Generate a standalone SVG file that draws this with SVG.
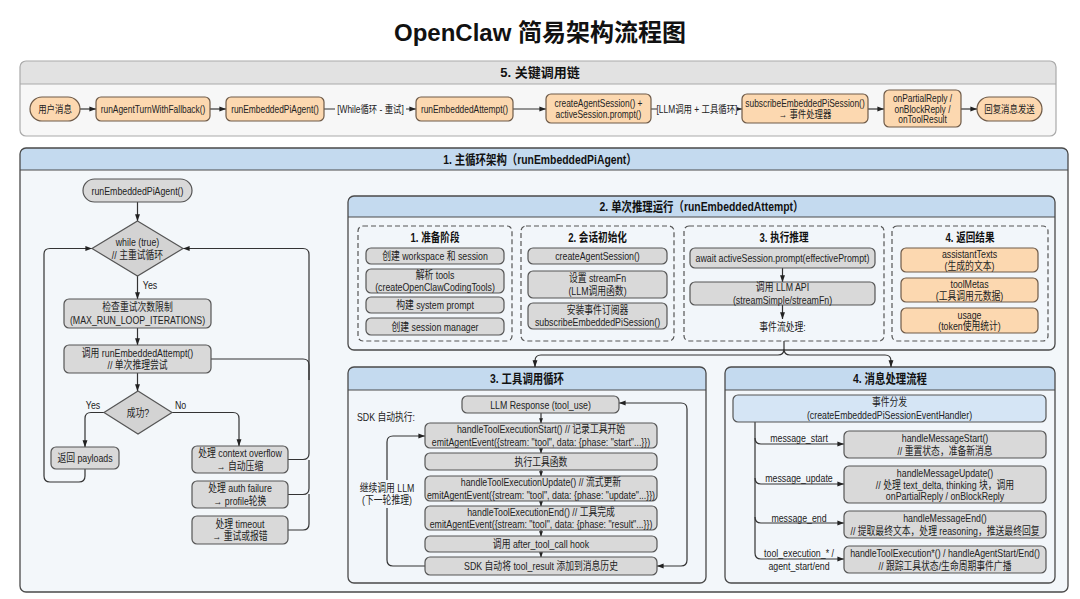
<svg xmlns="http://www.w3.org/2000/svg" width="1080" height="599" viewBox="0 0 1080 599">
<defs>
<style>
.t{font-family:"Liberation Sans","Noto Sans CJK SC",sans-serif;font-size:11px;fill:#222;text-anchor:middle}
.s{font-size:10.5px}
.hd{font-size:13px;font-weight:bold;fill:#111}
.sh{font-size:12px;font-weight:bold;fill:#111}
.title{font-family:"Liberation Sans","Noto Sans CJK SC",sans-serif;font-size:24px;font-weight:bold;fill:#111;text-anchor:middle}
.n{fill:#d9d9d9;stroke:#555;stroke-width:1.2}
.dm{fill:#d3d3d3;stroke:#555;stroke-width:1.2}
.o{fill:#fcd8b0;stroke:#6e5a48;stroke-width:1.2}
.ev{fill:#d5e5f5;stroke:#555;stroke-width:1.2}
.body{fill:#f2f6fa}
.hdr{fill:#c4daef}
.frame{fill:none;stroke:#4a4a4a;stroke-width:1.3}
.dash{fill:none;stroke:#555;stroke-width:1.2;stroke-dasharray:5 3}
.e{fill:none;stroke:#333;stroke-width:1.2;marker-end:url(#a)}
.el{fill:none;stroke:#333;stroke-width:1.2}
.es{fill:none;stroke:#333;stroke-width:1.2;marker-end:url(#sm)}
</style>
<marker id="a" viewBox="0 0 10 10" refX="9.5" refY="5" markerWidth="7" markerHeight="7" markerUnits="userSpaceOnUse" orient="auto-start-reverse"><path d="M0,1.5 L10,5 L0,8.5 z" fill="#222"/></marker>
<marker id="sm" viewBox="0 0 10 10" refX="9.5" refY="5" markerWidth="5" markerHeight="5" markerUnits="userSpaceOnUse" orient="auto"><path d="M0,1 L10,5 L0,9 z" fill="#222"/></marker>
</defs>
<rect x="0" y="0" width="1080" height="599" fill="#ffffff"/>
<text class="title" x="540" y="41">OpenClaw 简易架构流程图</text>

<!-- Panels -->
<g id="panel-5">
<rect x="20" y="61" width="1036" height="75" rx="6" fill="#f7f7f7"/>
<path d="M20,84 V67 Q20,61 26,61 H1050 Q1056,61 1056,67 V84 Z" fill="#e2e2e2"/>
<line x1="20" y1="84" x2="1056" y2="84" stroke="#aaa"/>
<rect x="20" y="61" width="1036" height="75" rx="6" fill="none" stroke="#aaa" stroke-width="1.2"/>
<text class="t hd" x="540" y="77">5. 关键调用链</text>
</g>

<g id="panel-1">
<rect x="20" y="148" width="1048" height="444" rx="6" fill="#f3f7fa"/>
<path d="M20,170 V154 Q20,148 26,148 H1062 Q1068,148 1068,154 V170 Z" class="hdr"/>
<line x1="20" y1="170" x2="1068" y2="170" stroke="#4a4a4a" stroke-width="1"/>
<rect class="frame" x="20" y="148" width="1048" height="444" rx="6"/>
<text class="t hd" transform="translate(540 159) scale(.8 1)"><tspan x="0" y="4.5">1. 主循环架构（runEmbeddedPiAgent）</tspan></text>
</g>

<g id="panel-2">
<rect x="348" y="196" width="707" height="154" rx="6" class="body"/>
<path d="M348,217 V202 Q348,196 354,196 H1049 Q1055,196 1055,202 V217 Z" class="hdr"/>
<line x1="348" y1="217" x2="1055" y2="217" stroke="#4a4a4a" stroke-width="1"/>
<rect class="frame" x="348" y="196" width="707" height="154" rx="6"/>
<text class="t hd" transform="translate(701.5 206.5) scale(.8 1)"><tspan x="0" y="4.5">2. 单次推理运行（runEmbeddedAttempt）</tspan></text>
<rect class="dash" x="358" y="226" width="154" height="115" rx="5"/>
<rect class="dash" x="521" y="226" width="153" height="115" rx="5"/>
<rect class="dash" x="684" y="226" width="200" height="115" rx="5"/>
<rect class="dash" x="892" y="226" width="156" height="115" rx="5"/>
<text class="t sh" transform="translate(435 238) scale(.8 1)"><tspan x="0" y="4">1. 准备阶段</tspan></text>
<text class="t sh" transform="translate(597.5 238) scale(.8 1)"><tspan x="0" y="4">2. 会话初始化</tspan></text>
<text class="t sh" transform="translate(784 238) scale(.8 1)"><tspan x="0" y="4">3. 执行推理</tspan></text>
<text class="t sh" transform="translate(970 238) scale(.8 1)"><tspan x="0" y="4">4. 返回结果</tspan></text>
</g>

<g id="panel-3">
<rect x="348" y="367" width="358" height="216" rx="6" class="body"/>
<path d="M348,390 V373 Q348,367 354,367 H700 Q706,367 706,373 V390 Z" class="hdr"/>
<line x1="348" y1="390" x2="706" y2="390" stroke="#4a4a4a" stroke-width="1"/>
<rect class="frame" x="348" y="367" width="358" height="216" rx="6"/>
<text class="t hd" transform="translate(527 378.5) scale(.8 1)"><tspan x="0" y="4.5">3. 工具调用循环</tspan></text>
<text class="t" transform="translate(386 417) scale(.8 1)"><tspan x="0" y="4">SDK 自动执行:</tspan></text>
</g>

<g id="panel-4">
<rect x="725" y="367" width="330" height="216" rx="6" class="body"/>
<path d="M725,390 V373 Q725,367 731,367 H1049 Q1055,367 1055,373 V390 Z" class="hdr"/>
<line x1="725" y1="390" x2="1055" y2="390" stroke="#4a4a4a" stroke-width="1"/>
<rect class="frame" x="725" y="367" width="330" height="216" rx="6"/>
<text class="t hd" transform="translate(890 378.5) scale(.8 1)"><tspan x="0" y="4.5">4. 消息处理流程</tspan></text>
</g>

<!-- Connectors -->
<g id="connectors">
<path class="e" d="M80,109 H96"/>
<path class="e" d="M210,109 H226"/>
<path class="e" d="M324,109 H416"/>
<path class="e" d="M513,109 H546"/>
<path class="e" d="M651,109 H742"/>
<path class="e" d="M868,109 H884"/>
<path class="e" d="M961,109 H977"/>
<rect x="335" y="102" width="71" height="14" fill="#f7f7f7"/>
<text class="t s" transform="translate(370.5 109) scale(.8 1)"><tspan x="0" y="4">[While循环 - 重试]</tspan></text>
<rect x="657" y="102" width="80" height="14" fill="#f7f7f7"/>
<text class="t s" transform="translate(697 109) scale(.8 1)"><tspan x="0" y="4">[LLM调用 + 工具循环]</tspan></text>

<path class="e" d="M137.5,202 V221"/>
<path class="e" d="M137.5,276 V299"/>
<path class="e" d="M137.5,328 V345"/>
<path class="e" d="M137.5,373 V391"/>
<path class="e" d="M104,412.5 H91 Q85,412.5 85,418.5 V447"/>
<path class="e" d="M85,469 V476 Q85,482 79,482 H50 Q44,482 44,476 V254 Q44,248.5 50,248.5 H92"/>
<path class="e" d="M172,412.5 H233 Q239,412.5 239,418.5 V446"/>
<path class="e" d="M288,459.5 H303 Q309,459.5 309,453.5 V254.5 Q309,248.5 303,248.5 H183"/>
<path class="el" d="M288,494.5 H303 Q309,494.5 309,488.5 V460"/>
<path class="el" d="M288,530 H303 Q309,530 309,524 V494"/>
<path class="el" d="M211,359 H303 Q309,359 309,365 V380"/>
<text class="t" transform="translate(150 285) scale(.8 1)"><tspan x="0" y="4">Yes</tspan></text>
<text class="t" transform="translate(93 405) scale(.8 1)"><tspan x="0" y="4">Yes</tspan></text>
<text class="t" transform="translate(180.5 405) scale(.8 1)"><tspan x="0" y="4">No</tspan></text>

<path class="el" d="M784,341 V349 Q784,355 778,355 H541 Q535,355 535,361"/>
<path class="e" d="M535,360 V367"/>
<path class="el" d="M784,349 Q784,355 790,355 H885 Q891,355 891,361"/>
<path class="e" d="M891,360 V367"/>

<path class="e" d="M782.5,268 V282"/>
<path class="e" d="M782.5,305 V319"/>

<path class="es" d="M541,413 V423"/>
<path class="es" d="M541,448 V453"/>
<path class="es" d="M541,470 V476"/>
<path class="es" d="M541,501 V506"/>
<path class="es" d="M541,530 V536"/>
<path class="es" d="M541,552 V557"/>
<path class="e" d="M425,566 H393 Q387,566 387,560 V442 Q387,436 393,436 H425"/>
<path class="e" style="marker-start:url(#a)" d="M657,566 H681 Q687,566 687,560 V409 Q687,403 681,403 H619"/>
<rect x="357" y="480" width="60" height="28" fill="#f2f6fa"/>
<text class="t" transform="translate(387 494) scale(.8 1)"><tspan x="0" y="-2.5">继续调用 LLM</tspan><tspan x="0" y="10.5">(下一轮推理)</tspan></text>

<path class="e" d="M755,422 V438 Q755,444 761,444 H844"/>
<path class="e" d="M755,438 V478 Q755,484 761,484 H844"/>
<path class="e" d="M755,478 V517 Q755,523 761,523 H844"/>
<path class="e" d="M755,517 V553 Q755,559 761,559 H844"/>
<text class="t" transform="translate(799 438) scale(.8 1)"><tspan x="0" y="4">message_start</tspan></text>
<text class="t" transform="translate(799 478) scale(.8 1)"><tspan x="0" y="4">message_update</tspan></text>
<text class="t" transform="translate(799 518) scale(.8 1)"><tspan x="0" y="4">message_end</tspan></text>
<text class="t" transform="translate(799 553) scale(.8 1)"><tspan x="0" y="4">tool_execution_* /</tspan></text>
<text class="t" transform="translate(799 566) scale(.8 1)"><tspan x="0" y="4">agent_start/end</tspan></text>
</g>

<!-- Nodes: call chain -->
<g id="c-user"><rect class="o" x="30" y="97" width="50" height="24" rx="12"/><text class="t s" transform="translate(55 109) scale(.8 1)"><tspan x="0" y="4">用户消息</tspan></text></g>
<g id="c-fallback"><rect class="o" x="96" y="97" width="114" height="24" rx="5"/><text class="t s" transform="translate(153 109) scale(.8 1)"><tspan x="0" y="4">runAgentTurnWithFallback()</tspan></text></g>
<g id="c-piagent"><rect class="o" x="226" y="97" width="98" height="24" rx="5"/><text class="t s" transform="translate(275 109) scale(.8 1)"><tspan x="0" y="4">runEmbeddedPiAgent()</tspan></text></g>
<g id="c-attempt"><rect class="o" x="416" y="97" width="97" height="24" rx="5"/><text class="t s" transform="translate(464.5 109) scale(.8 1)"><tspan x="0" y="4">runEmbeddedAttempt()</tspan></text></g>
<g id="c-session"><rect class="o" x="546" y="94" width="105" height="29" rx="5"/><text class="t s" transform="translate(598.5 108.5) scale(.8 1)"><tspan x="0" y="-2">createAgentSession() +</tspan><tspan x="0" y="10">activeSession.prompt()</tspan></text></g>
<g id="c-subscribe"><rect class="o" x="742" y="94" width="126" height="29" rx="5"/><text class="t s" transform="translate(805 108.5) scale(.8 1)"><tspan x="0" y="-2">subscribeEmbeddedPiSession()</tspan><tspan x="0" y="10">→ 事件处理器</tspan></text></g>
<g id="c-replies"><rect class="o" x="884" y="90" width="77" height="37" rx="5"/><text class="t s" transform="translate(922.5 108.5) scale(.8 1)"><tspan x="0" y="-7">onPartialReply /</tspan><tspan x="0" y="4">onBlockReply /</tspan><tspan x="0" y="15">onToolResult</tspan></text></g>
<g id="c-send"><rect class="o" x="977" y="97" width="65" height="24" rx="12"/><text class="t s" transform="translate(1009.5 109) scale(.8 1)"><tspan x="0" y="4">回复消息发送</tspan></text></g>

<!-- Nodes: main loop -->
<g id="n-start"><rect class="n" x="83" y="179" width="109" height="23" rx="11.5"/><text class="t" transform="translate(137.5 190.5) scale(.8 1)"><tspan x="0" y="4">runEmbeddedPiAgent()</tspan></text></g>
<g id="n-while"><polygon class="dm" points="137.5,221 183,248.5 137.5,276 92,248.5"/><text class="t" transform="translate(137.5 248.5) scale(.8 1)"><tspan x="0" y="-2.5">while (true)</tspan><tspan x="0" y="10.5">// 主重试循环</tspan></text></g>
<g id="n-check"><rect class="n" x="64" y="299" width="147" height="29" rx="5"/><text class="t" transform="translate(137.5 313.5) scale(.8 1)"><tspan x="0" y="-2.5">检查重试次数限制</tspan><tspan x="0" y="10.5">(MAX_RUN_LOOP_ITERATIONS)</tspan></text></g>
<g id="n-call"><rect class="n" x="64" y="345" width="147" height="28" rx="5"/><text class="t" transform="translate(137.5 359) scale(.8 1)"><tspan x="0" y="-2.5">调用 runEmbeddedAttempt()</tspan><tspan x="0" y="10.5">// 单次推理尝试</tspan></text></g>
<g id="n-success"><polygon class="dm" points="138,391 172,412.5 138,434 104,412.5"/><text class="t" transform="translate(138 412.5) scale(.8 1)"><tspan x="0" y="4">成功?</tspan></text></g>
<g id="n-return"><rect class="n" x="51" y="447" width="68" height="22" rx="5"/><text class="t" transform="translate(85 458) scale(.8 1)"><tspan x="0" y="4">返回 payloads</tspan></text></g>
<g id="n-overflow"><rect class="n" x="192" y="446" width="96" height="27" rx="5"/><text class="t" transform="translate(240 459.5) scale(.8 1)"><tspan x="0" y="-2.5">处理 context overflow</tspan><tspan x="0" y="10.5">→ 自动压缩</tspan></text></g>
<g id="n-auth"><rect class="n" x="192" y="481" width="96" height="27" rx="5"/><text class="t" transform="translate(240 494.5) scale(.8 1)"><tspan x="0" y="-2.5">处理 auth failure</tspan><tspan x="0" y="10.5">→ profile轮换</tspan></text></g>
<g id="n-timeout"><rect class="n" x="192" y="516" width="96" height="28" rx="5"/><text class="t" transform="translate(240 530) scale(.8 1)"><tspan x="0" y="-2.5">处理 timeout</tspan><tspan x="0" y="10.5">→ 重试或报错</tspan></text></g>

<!-- Nodes: section 2 -->
<g id="p-workspace"><rect class="n" x="366" y="248" width="138" height="16" rx="5"/><text class="t" transform="translate(435 256) scale(.8 1)"><tspan x="0" y="4">创建 workspace 和 session</tspan></text></g>
<g id="p-tools"><rect class="n" x="366" y="269" width="138" height="24" rx="5"/><text class="t" transform="translate(435 281) scale(.8 1)"><tspan x="0" y="-2">解析 tools</tspan><tspan x="0" y="10">(createOpenClawCodingTools)</tspan></text></g>
<g id="p-prompt"><rect class="n" x="366" y="297" width="138" height="16" rx="5"/><text class="t" transform="translate(435 305) scale(.8 1)"><tspan x="0" y="4">构建 system prompt</tspan></text></g>
<g id="p-manager"><rect class="n" x="366" y="318" width="138" height="17" rx="5"/><text class="t" transform="translate(435 326.5) scale(.8 1)"><tspan x="0" y="4">创建 session manager</tspan></text></g>
<g id="s-create"><rect class="n" x="528" y="248" width="139" height="16" rx="5"/><text class="t" transform="translate(597.5 256) scale(.8 1)"><tspan x="0" y="4">createAgentSession()</tspan></text></g>
<g id="s-stream"><rect class="n" x="528" y="271" width="139" height="27" rx="5"/><text class="t" transform="translate(597.5 284.5) scale(.8 1)"><tspan x="0" y="-2.5">设置 streamFn</tspan><tspan x="0" y="10.5">(LLM调用函数)</tspan></text></g>
<g id="s-subscribe"><rect class="n" x="528" y="303" width="139" height="26" rx="5"/><text class="t" transform="translate(597.5 316) scale(.8 1)"><tspan x="0" y="-2.5">安装事件订阅器</tspan><tspan x="0" y="10.5">subscribeEmbeddedPiSession()</tspan></text></g>
<g id="r-await"><rect class="n" x="690" y="248" width="185" height="20" rx="5"/><text class="t" transform="translate(782.5 258) scale(.8 1)"><tspan x="0" y="4">await activeSession.prompt(effectivePrompt)</tspan></text></g>
<g id="r-llm"><rect class="n" x="690" y="282" width="185" height="23" rx="5"/><text class="t" transform="translate(782.5 293.5) scale(.8 1)"><tspan x="0" y="-2.5">调用 LLM API</tspan><tspan x="0" y="10.5">(streamSimple/streamFn)</tspan></text></g>
<g id="r-events"><text class="t" transform="translate(782.5 327) scale(.8 1)"><tspan x="0" y="4">事件流处理:</tspan></text></g>
<g id="o-texts"><rect class="o" x="901" y="248" width="137" height="24" rx="5"/><text class="t" transform="translate(969.5 260) scale(.8 1)"><tspan x="0" y="-2">assistantTexts</tspan><tspan x="0" y="10">(生成的文本)</tspan></text></g>
<g id="o-metas"><rect class="o" x="901" y="278" width="137" height="24" rx="5"/><text class="t" transform="translate(969.5 290) scale(.8 1)"><tspan x="0" y="-2">toolMetas</tspan><tspan x="0" y="10">(工具调用元数据)</tspan></text></g>
<g id="o-usage"><rect class="o" x="901" y="308" width="137" height="25" rx="5"/><text class="t" transform="translate(969.5 320.5) scale(.8 1)"><tspan x="0" y="-2">usage</tspan><tspan x="0" y="10">(token使用统计)</tspan></text></g>

<!-- Nodes: section 3 -->
<g id="t-response"><rect class="n" x="462" y="396" width="157" height="17" rx="5"/><text class="t" transform="translate(540.5 404.5) scale(.8 1)"><tspan x="0" y="4">LLM Response (tool_use)</tspan></text></g>
<g id="t-start"><rect class="n" x="425" y="423" width="232" height="25" rx="5"/><text class="t" transform="translate(541 435.5) scale(.8 1)"><tspan x="0" y="-2.5">handleToolExecutionStart() // 记录工具开始</tspan><tspan x="0" y="10.5">emitAgentEvent({stream: "tool", data: {phase: "start"...}})</tspan></text></g>
<g id="t-exec"><rect class="n" x="425" y="453" width="232" height="17" rx="5"/><text class="t" transform="translate(541 461.5) scale(.8 1)"><tspan x="0" y="4">执行工具函数</tspan></text></g>
<g id="t-update"><rect class="n" x="425" y="476" width="232" height="25" rx="5"/><text class="t" transform="translate(541 488.5) scale(.8 1)"><tspan x="0" y="-2.5">handleToolExecutionUpdate() // 流式更新</tspan><tspan x="0" y="10.5">emitAgentEvent({stream: "tool", data: {phase: "update"...}})</tspan></text></g>
<g id="t-end"><rect class="n" x="425" y="506" width="232" height="24" rx="5"/><text class="t" transform="translate(541 518) scale(.8 1)"><tspan x="0" y="-2.5">handleToolExecutionEnd() // 工具完成</tspan><tspan x="0" y="10.5">emitAgentEvent({stream: "tool", data: {phase: "result"...}})</tspan></text></g>
<g id="t-hook"><rect class="n" x="425" y="536" width="232" height="16" rx="5"/><text class="t" transform="translate(541 544) scale(.8 1)"><tspan x="0" y="4">调用 after_tool_call hook</tspan></text></g>
<g id="t-history"><rect class="n" x="425" y="557" width="232" height="18" rx="5"/><text class="t" transform="translate(541 566) scale(.8 1)"><tspan x="0" y="4">SDK 自动将 tool_result 添加到消息历史</tspan></text></g>

<!-- Nodes: section 4 -->
<g id="m-dispatch"><rect class="ev" x="733" y="395" width="313" height="27" rx="5"/><text class="t" transform="translate(889.5 408.5) scale(.8 1)"><tspan x="0" y="-2.5">事件分发</tspan><tspan x="0" y="10.5">(createEmbeddedPiSessionEventHandler)</tspan></text></g>
<g id="m-start"><rect class="n" x="844" y="431" width="202" height="27" rx="5"/><text class="t" transform="translate(945 444.5) scale(.8 1)"><tspan x="0" y="-2.5">handleMessageStart()</tspan><tspan x="0" y="10.5">// 重置状态，准备新消息</tspan></text></g>
<g id="m-update"><rect class="n" x="844" y="466" width="202" height="37" rx="5"/><text class="t" transform="translate(945 484.5) scale(.8 1)"><tspan x="0" y="-8">handleMessageUpdate()</tspan><tspan x="0" y="4">// 处理 text_delta, thinking 块，调用</tspan><tspan x="0" y="16">onPartialReply / onBlockReply</tspan></text></g>
<g id="m-end"><rect class="n" x="844" y="511" width="202" height="27" rx="5"/><text class="t" transform="translate(945 524.5) scale(.8 1)"><tspan x="0" y="-2.5">handleMessageEnd()</tspan><tspan x="0" y="10.5">// 提取最终文本，处理 reasoning，推送最终回复</tspan></text></g>
<g id="m-tool"><rect class="n" x="844" y="546" width="202" height="27" rx="5"/><text class="t" transform="translate(945 559.5) scale(.8 1)"><tspan x="0" y="-2.5">handleToolExecution*() / handleAgentStart/End()</tspan><tspan x="0" y="10.5">// 跟踪工具状态/生命周期事件广播</tspan></text></g>
</svg>
